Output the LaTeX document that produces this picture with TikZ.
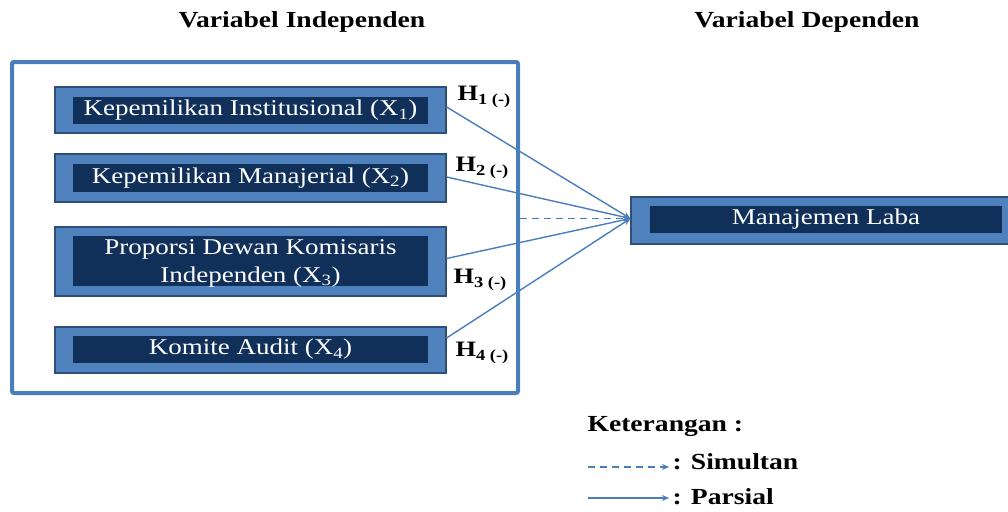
\documentclass[tikz,border=0pt]{standalone}
\usepackage{fontspec}
\setmainfont{Liberation Serif}[FakeStretch=1.2]
\usepackage{tikz}
\usetikzlibrary{arrows.meta, calc, positioning}
\usepackage{xcolor}
\definecolor{boxblue}{HTML}{4F81BD}
\definecolor{boxedge}{HTML}{2E4E78}
\definecolor{navy}{HTML}{10305A}
\definecolor{linkblue}{HTML}{4A7EBB}

\tikzset{
  outerbox/.style={draw=boxedge, line width=1.2pt, fill=boxblue, inner sep=0pt},
  innerbox/.style={fill=navy, text=white, inner sep=0pt, align=center,
                   font=\fontsize{22.5}{28}\selectfont},
  link/.style={draw=linkblue, line width=1.4pt, -{Stealth[length=7pt,width=6pt]}},
  simlink/.style={link, dash pattern=on 7pt off 5pt},
  hlabel/.style={anchor=west, font=\fontsize{22}{24}\selectfont\bfseries},
  title/.style={font=\fontsize{23}{24}\selectfont\bfseries}
}

\begin{document}
\begin{tikzpicture}[x=1pt, y=-1pt]
      \useasboundingbox (0,0) rectangle (1008,511);

      % Titles
      \node[title] (tind) at (302,22) {Variabel Independen};
      \node[title] (tdep) at (807,22) {Variabel Dependen};

      % Frame round the independent variables
      \node[draw=linkblue, line width=4pt, rounded corners=2pt, minimum width=506pt,
            minimum height=331pt, inner sep=0pt] (frame) at (265,227.5) {};

      % Independent variables
      \node[outerbox, minimum width=391pt, minimum height=46pt] (b1) at (250.5,110) {};
      \node[innerbox, minimum width=355pt, minimum height=27pt] (t1) at (250.5,110.5)
        {Kepemilikan Institusional (X\textsubscript{1})};

      \node[outerbox, minimum width=391pt, minimum height=48pt] (b2) at (250.5,178) {};
      \node[innerbox, minimum width=355pt, minimum height=28pt] (t2) at (250.5,178)
        {Kepemilikan Manajerial (X\textsubscript{2})};

      \node[outerbox, minimum width=391pt, minimum height=69pt] (b3) at (250.5,261.5) {};
      \node[innerbox, minimum width=355pt, minimum height=50pt, text depth=0pt] (t3) at (250.5,261)
        {Proporsi Dewan Komisaris\\Independen (X\textsubscript{3})};

      \node[outerbox, minimum width=391pt, minimum height=46pt] (b4) at (250.5,350) {};
      \node[innerbox, minimum width=355pt, minimum height=27pt] (t4) at (250.5,349.5)
        {Komite Audit (X\textsubscript{4})};

      % Dependent variable
      \node[outerbox, minimum width=378pt, minimum height=47pt] (y) at (820,220.5) {};
      \node[innerbox, minimum width=352pt, minimum height=27pt] (ty) at (826,219.5)
        {Manajemen Laba};

      % Hypotheses
      \node[hlabel] (h1) at (454,97)  {H\textsubscript{1 (-)}};
      \node[hlabel] (h2) at (452,168) {H\textsubscript{2 (-)}};
      \node[hlabel] (h3) at (450,280) {H\textsubscript{3 (-)}};
      \node[hlabel] (h4) at (452,353) {H\textsubscript{4 (-)}};

      % Links
      \draw[link] ([yshift=3pt]b1.east) -- ([yshift=2pt]y.west);
      \draw[link] ([yshift=1pt]b2.east) -- ([yshift=2pt]y.west);
      \draw[link] ([yshift=3pt]b3.east) -- ([yshift=2pt]y.west);
      \draw[link] ([yshift=12pt]b4.east) -- ([yshift=2pt]y.west);
      \draw[simlink] ([yshift=2pt]frame.east |- y.west) -- ([yshift=2pt]y.west);

      % Legend
      \node[title, anchor=west] (ket) at (584,427) {Keterangan :};
      \node[title, anchor=west] (sim) at (669,462) {: Simultan};
      \node[title, anchor=west] (par) at (669,497) {: Parsial};
      \coordinate (ds) at (588,467);
      \coordinate (ps) at (588,498);
      \draw[simlink] (ds) -- (ds -| sim.west);
      \draw[link] (ps) -- (ps -| par.west);
    \end{tikzpicture}
\end{document}
